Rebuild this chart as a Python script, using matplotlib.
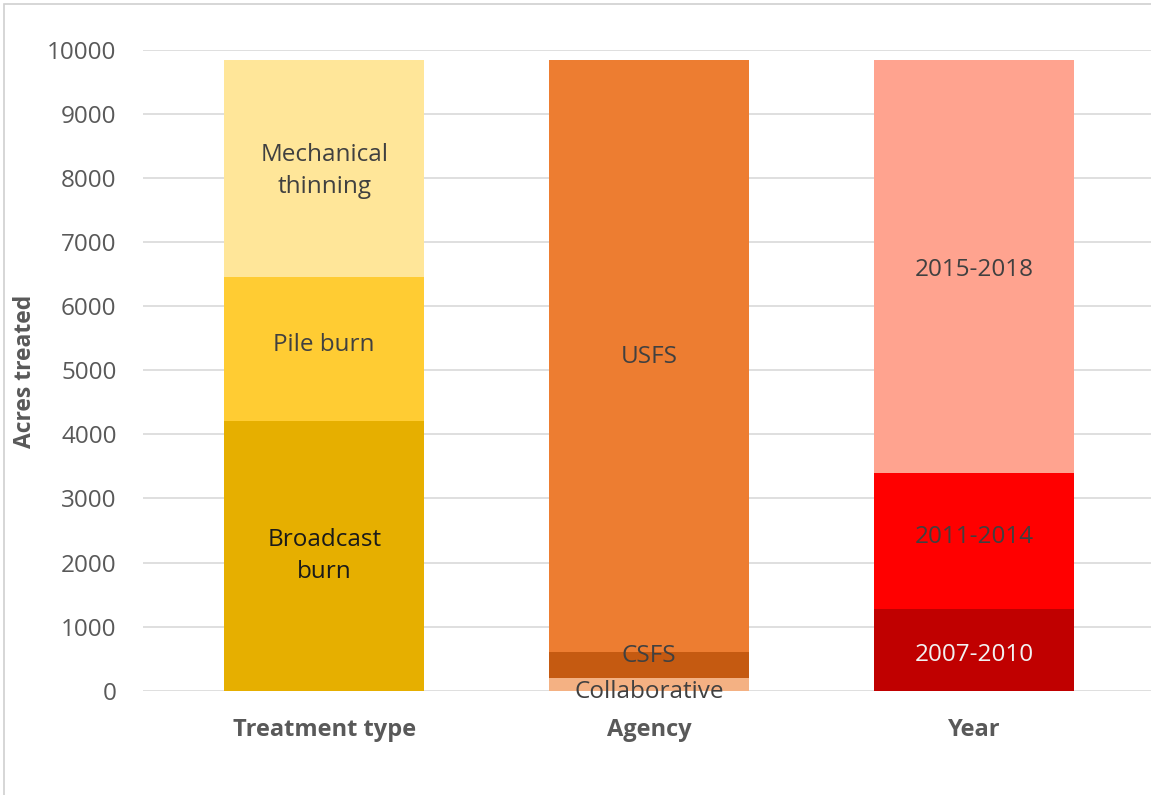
import numpy as np
import matplotlib
matplotlib.use("Agg")
import matplotlib.pyplot as plt
from matplotlib.patches import Rectangle

plt.rcParams['font.family'] = ['Open Sans', 'DejaVu Sans']

groups = ["Treatment type", "Agency", "Year"]

# segments of each stacked bar, bottom to top
treat_labels = ["Broadcast\nburn", "Pile burn", "Mechanical\nthinning"]
treat_values = [4210, 2245, 3385]
treat_colors = ["#E6AF00", "#FFCC33", "#FFE699"]
treat_text = ["#1a1a1a", "#404040", "#404040"]

agency_labels = ["Collaborative", "CSFS", "USFS"]
agency_values = [205, 405, 9230]
agency_colors = ["#F4B183", "#C55A11", "#ED7D31"]
agency_text = ["#404040", "#404040", "#404040"]

year_labels = ["2007-2010", "2011-2014", "2015-2018"]
year_values = [1275, 2115, 6450]
year_colors = ["#C00000", "#FF0000", "#FFA38F"]
year_text = ["#F2F2F2", "#404040", "#404040"]

# small label nudges (points) where Excel shifted the text
label_dy = [[0, 3, -2], [-6, 6, -1], [-4, 3, -2]]

fig = plt.figure(figsize=(11.51, 7.95), dpi=100)
ax = fig.add_axes([0.1242, 0.1312, 0.8758, 0.806])

stacks = [
    (treat_labels, treat_values, treat_colors, treat_text),
    (agency_labels, agency_values, agency_colors, agency_text),
    (year_labels, year_values, year_colors, year_text),
]

width = 0.615
for i, (labs, vals, cols, tcols) in enumerate(stacks):
    bottom = 0
    for j, (lab, v, c, tc) in enumerate(zip(labs, vals, cols, tcols)):
        ax.bar(i, v, width, bottom=bottom, color=c, zorder=2)
        ax.annotate(lab, (i, bottom + v / 2), xytext=(0, label_dy[i][j]),
                    textcoords="offset points", ha="center", va="center",
                    fontsize=17.5, color=tc, linespacing=1.45, zorder=3)
        bottom += v

ax.set_ylim(0, 10000)
ax.set_xlim(-0.558, 2.545)
ax.set_yticks(np.arange(0, 10001, 1000))
ax.set_xticks(range(3))
ax.set_xticklabels(groups, fontsize=17, fontweight="bold", color="#595959")
ax.tick_params(axis="x", length=0, pad=20)
ax.tick_params(axis="y", length=0, pad=19, labelsize=17.5, labelcolor="#595959")
ax.yaxis.grid(True, color="#D9D9D9", linewidth=1.2, zorder=0)
ax.set_axisbelow(True)
for s in ax.spines.values():
    s.set_visible(False)

fig.text(0.022, 1 - 371 / 795, "Acres treated", rotation=90, ha="center",
         va="center", fontsize=16.5, fontweight="bold", color="#595959")

# chart frame
fig.patches.append(Rectangle((4 / 1151, -0.05), 1.1, 1 - 4 / 795 + 0.05,
                             transform=fig.transFigure, fill=False,
                             edgecolor="#D0D0D0", linewidth=1.2))

fig.savefig("out.png", dpi=100)
